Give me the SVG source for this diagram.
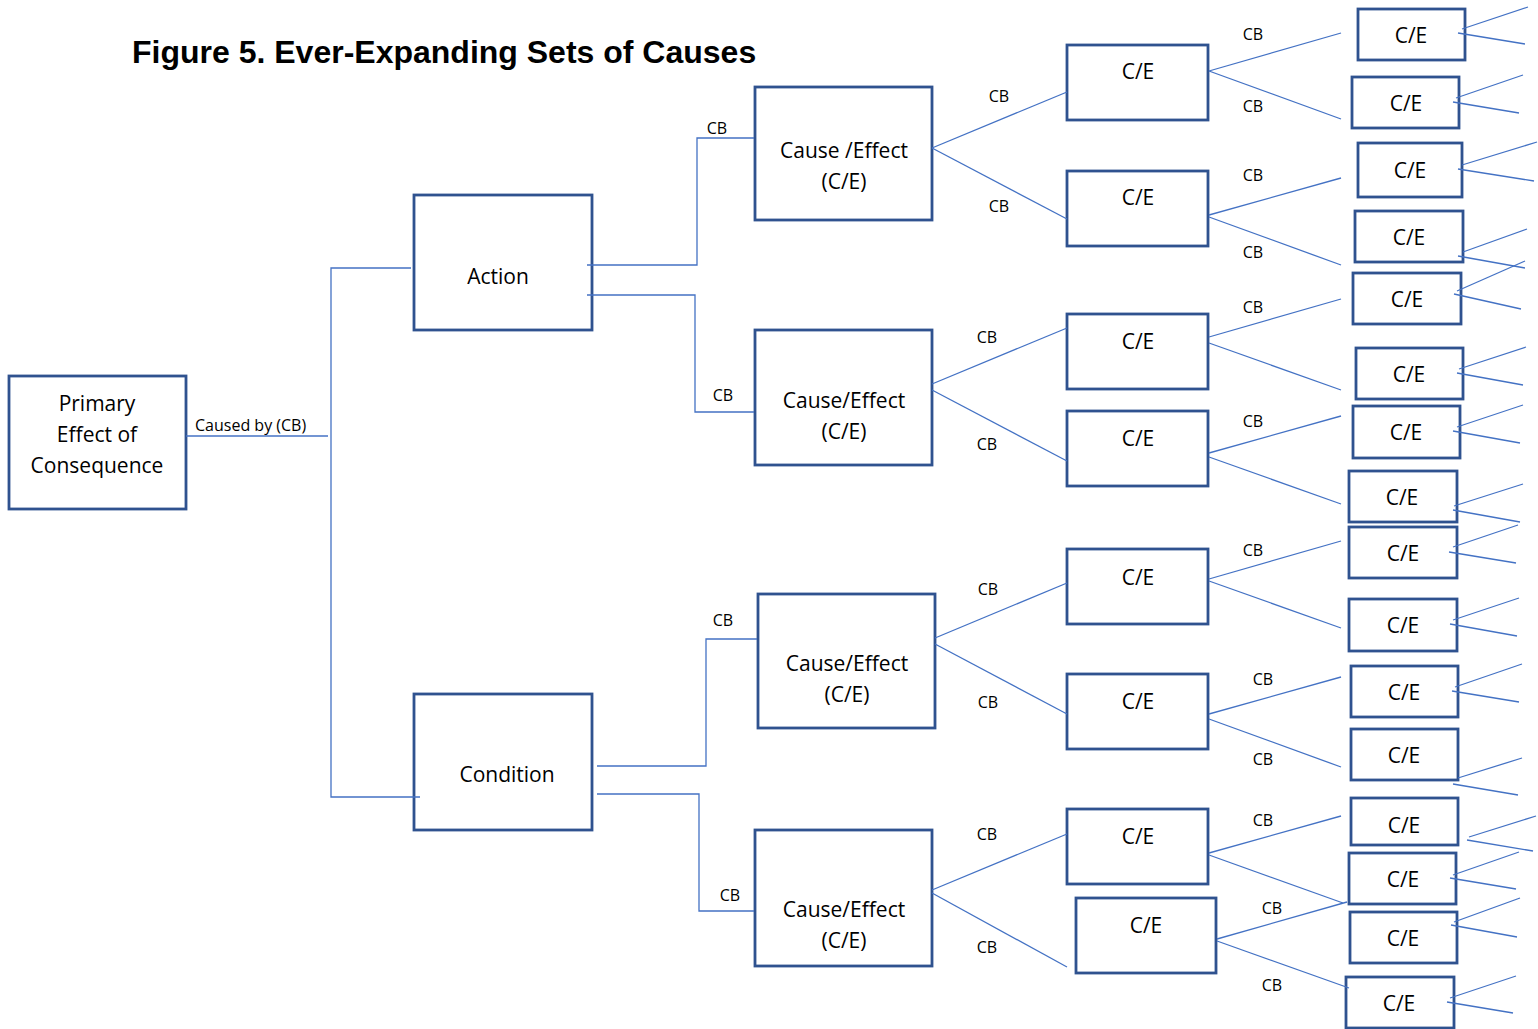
<svg xmlns="http://www.w3.org/2000/svg" width="1538" height="1029" viewBox="0 0 1538 1029">
<style>
.b{fill:#fff;stroke:#2F528F;stroke-width:2.8}
.t{font-family:"Open Sans","Liberation Sans",sans-serif;font-size:21px;fill:#000;text-anchor:middle}
.cb{font-family:"Open Sans","Liberation Sans",sans-serif;font-size:16px;fill:#000;text-anchor:middle}
#connectors line,#connectors polyline{stroke:#4472C4;stroke-width:1.3;fill:none}
</style>
<rect width="1538" height="1029" fill="#fff"/>
<text x="132" y="63" font-family="Liberation Sans,Arial,sans-serif" font-size="32" font-weight="bold" fill="#000">Figure 5. Ever-Expanding Sets of Causes</text>

<g id="primary"><rect class="b" x="9" y="376" width="177" height="133"/><text class="t" x="97" y="411">Primary</text><text class="t" x="97" y="442">Effect of</text><text class="t" x="97" y="473">Consequence</text></g>
<g id="action"><rect class="b" x="414" y="195" width="178" height="135"/><text class="t" x="498" y="284">Action</text></g>
<g id="condition"><rect class="b" x="414" y="694" width="178" height="136"/><text class="t" x="507" y="782">Condition</text></g>

<g id="ce1"><rect class="b" x="755" y="87" width="177" height="133"/><text class="t" x="844" y="158">Cause /Effect</text><text class="t" x="844" y="189">(C/E)</text></g>
<g id="ce2"><rect class="b" x="755" y="330" width="177" height="135"/><text class="t" x="844" y="408">Cause/Effect</text><text class="t" x="844" y="439">(C/E)</text></g>
<g id="ce3"><rect class="b" x="758" y="594" width="177" height="134"/><text class="t" x="847" y="671">Cause/Effect</text><text class="t" x="847" y="702">(C/E)</text></g>
<g id="ce4"><rect class="b" x="755" y="830" width="177" height="136"/><text class="t" x="844" y="917">Cause/Effect</text><text class="t" x="844" y="948">(C/E)</text></g>

<g id="l3a"><rect class="b" x="1067" y="45" width="141" height="75"/><text class="t" x="1138" y="79">C/E</text></g>
<g id="l3b"><rect class="b" x="1067" y="171" width="141" height="75"/><text class="t" x="1138" y="205">C/E</text></g>
<g id="l3c"><rect class="b" x="1067" y="314" width="141" height="75"/><text class="t" x="1138" y="349">C/E</text></g>
<g id="l3d"><rect class="b" x="1067" y="411" width="141" height="75"/><text class="t" x="1138" y="446">C/E</text></g>
<g id="l3e"><rect class="b" x="1067" y="549" width="141" height="75"/><text class="t" x="1138" y="585">C/E</text></g>
<g id="l3f"><rect class="b" x="1067" y="674" width="141" height="75"/><text class="t" x="1138" y="709">C/E</text></g>
<g id="l3g"><rect class="b" x="1067" y="809" width="141" height="75"/><text class="t" x="1138" y="844">C/E</text></g>
<g id="l3h"><rect class="b" x="1076" y="898" width="140" height="75"/><text class="t" x="1146" y="933">C/E</text></g>

<g id="l4-1"><rect class="b" x="1358" y="9" width="107" height="51"/><text class="t" x="1411" y="43">C/E</text></g>
<g id="l4-2"><rect class="b" x="1352" y="77" width="107" height="51"/><text class="t" x="1406" y="111">C/E</text></g>
<g id="l4-3"><rect class="b" x="1358" y="143" width="104" height="54"/><text class="t" x="1410" y="178">C/E</text></g>
<g id="l4-4"><rect class="b" x="1355" y="211" width="108" height="51"/><text class="t" x="1409" y="245">C/E</text></g>
<g id="l4-5"><rect class="b" x="1353" y="273" width="108" height="51"/><text class="t" x="1407" y="307">C/E</text></g>
<g id="l4-6"><rect class="b" x="1356" y="348" width="107" height="51"/><text class="t" x="1409" y="382">C/E</text></g>
<g id="l4-7"><rect class="b" x="1353" y="406" width="107" height="52"/><text class="t" x="1406" y="440">C/E</text></g>
<g id="l4-8"><rect class="b" x="1349" y="471" width="108" height="51"/><text class="t" x="1402" y="505">C/E</text></g>
<g id="l4-9"><rect class="b" x="1349" y="527" width="108" height="51"/><text class="t" x="1403" y="561">C/E</text></g>
<g id="l4-10"><rect class="b" x="1349" y="599" width="108" height="52"/><text class="t" x="1403" y="633">C/E</text></g>
<g id="l4-11"><rect class="b" x="1351" y="666" width="107" height="51"/><text class="t" x="1404" y="700">C/E</text></g>
<g id="l4-12"><rect class="b" x="1351" y="729" width="107" height="51"/><text class="t" x="1404" y="763">C/E</text></g>
<g id="l4-13"><rect class="b" x="1351" y="798" width="107" height="47"/><text class="t" x="1404" y="833">C/E</text></g>
<g id="l4-14"><rect class="b" x="1349" y="853" width="107" height="51"/><text class="t" x="1403" y="887">C/E</text></g>
<g id="l4-15"><rect class="b" x="1350" y="912" width="107" height="51"/><text class="t" x="1403" y="946">C/E</text></g>
<g id="l4-16"><rect class="b" x="1346" y="977" width="108" height="51"/><text class="t" x="1399" y="1011">C/E</text></g>

<g id="connectors">
<line x1="186" y1="436" x2="328" y2="436"/>
<polyline points="411,268 331,268 331,797 420,797"/>
<polyline points="587,265 697,265 697,138 754,138"/>
<polyline points="587,295 695,295 695,412 754,412"/>
<polyline points="597,766 706,766 706,639 757,639"/>
<polyline points="597,794 699,794 699,911 754,911"/>
<line x1="932" y1="148" x2="1067" y2="92"/>
<line x1="932" y1="148" x2="1067" y2="219"/>
<line x1="932" y1="384" x2="1067" y2="328"/>
<line x1="932" y1="390" x2="1067" y2="461"/>
<line x1="935" y1="638" x2="1067" y2="583"/>
<line x1="935" y1="644" x2="1067" y2="714"/>
<line x1="932" y1="890" x2="1067" y2="834"/>
<line x1="932" y1="893" x2="1067" y2="967"/>
<line x1="1209" y1="71" x2="1341" y2="33"/>
<line x1="1209" y1="71" x2="1341" y2="119"/>
<line x1="1209" y1="215" x2="1341" y2="178"/>
<line x1="1209" y1="217" x2="1341" y2="265"/>
<line x1="1209" y1="337" x2="1341" y2="299"/>
<line x1="1209" y1="343" x2="1341" y2="390"/>
<line x1="1209" y1="453" x2="1341" y2="416"/>
<line x1="1209" y1="457" x2="1341" y2="504"/>
<line x1="1209" y1="579" x2="1341" y2="541"/>
<line x1="1209" y1="581" x2="1341" y2="628"/>
<line x1="1209" y1="714" x2="1341" y2="677"/>
<line x1="1209" y1="719" x2="1341" y2="767"/>
<line x1="1209" y1="853" x2="1341" y2="816"/>
<line x1="1209" y1="855" x2="1343" y2="903"/>
<line x1="1217" y1="939" x2="1347" y2="902"/>
<line x1="1217" y1="941" x2="1349" y2="988"/>
<line x1="1462" y1="29" x2="1528" y2="7"/>
<line x1="1458" y1="33" x2="1525" y2="44"/>
<line x1="1456" y1="98" x2="1523" y2="75"/>
<line x1="1453" y1="102" x2="1519" y2="113"/>
<line x1="1462" y1="165" x2="1537" y2="142"/>
<line x1="1458" y1="169" x2="1534" y2="181"/>
<line x1="1463" y1="252" x2="1527" y2="229"/>
<line x1="1458" y1="256" x2="1525" y2="268"/>
<line x1="1457" y1="291" x2="1525" y2="261"/>
<line x1="1454" y1="294" x2="1521" y2="309"/>
<line x1="1459" y1="369" x2="1526" y2="347"/>
<line x1="1457" y1="373" x2="1523" y2="385"/>
<line x1="1457" y1="427" x2="1523" y2="405"/>
<line x1="1453" y1="431" x2="1520" y2="443"/>
<line x1="1454" y1="506" x2="1523" y2="484"/>
<line x1="1453" y1="510" x2="1520" y2="522"/>
<line x1="1453" y1="547" x2="1518" y2="525"/>
<line x1="1449" y1="552" x2="1516" y2="563"/>
<line x1="1453" y1="620" x2="1519" y2="598"/>
<line x1="1450" y1="624" x2="1517" y2="636"/>
<line x1="1455" y1="687" x2="1522" y2="664"/>
<line x1="1452" y1="691" x2="1519" y2="702"/>
<line x1="1458" y1="778" x2="1522" y2="758"/>
<line x1="1453" y1="784" x2="1518" y2="795"/>
<line x1="1469" y1="837" x2="1536" y2="816"/>
<line x1="1467" y1="840" x2="1533" y2="851"/>
<line x1="1453" y1="875" x2="1519" y2="852"/>
<line x1="1450" y1="878" x2="1516" y2="889"/>
<line x1="1454" y1="922" x2="1520" y2="898"/>
<line x1="1451" y1="925" x2="1517" y2="937"/>
<line x1="1450" y1="998" x2="1516" y2="976"/>
<line x1="1447" y1="1002" x2="1513" y2="1013"/>
</g>

<g id="labels">
<text x="195" y="431" font-family="Open Sans,Liberation Sans,sans-serif" font-size="16" fill="#000">Caused by (CB)</text>
<text class="cb" x="717" y="134">CB</text>
<text class="cb" x="723" y="401">CB</text>
<text class="cb" x="723" y="626">CB</text>
<text class="cb" x="730" y="901">CB</text>
<text class="cb" x="999" y="102">CB</text>
<text class="cb" x="999" y="212">CB</text>
<text class="cb" x="987" y="343">CB</text>
<text class="cb" x="987" y="450">CB</text>
<text class="cb" x="988" y="595">CB</text>
<text class="cb" x="988" y="708">CB</text>
<text class="cb" x="987" y="840">CB</text>
<text class="cb" x="987" y="953">CB</text>
<text class="cb" x="1253" y="40">CB</text>
<text class="cb" x="1253" y="112">CB</text>
<text class="cb" x="1253" y="181">CB</text>
<text class="cb" x="1253" y="258">CB</text>
<text class="cb" x="1253" y="313">CB</text>
<text class="cb" x="1253" y="427">CB</text>
<text class="cb" x="1253" y="556">CB</text>
<text class="cb" x="1263" y="685">CB</text>
<text class="cb" x="1263" y="765">CB</text>
<text class="cb" x="1263" y="826">CB</text>
<text class="cb" x="1272" y="914">CB</text>
<text class="cb" x="1272" y="991">CB</text>
</g>
</svg>
